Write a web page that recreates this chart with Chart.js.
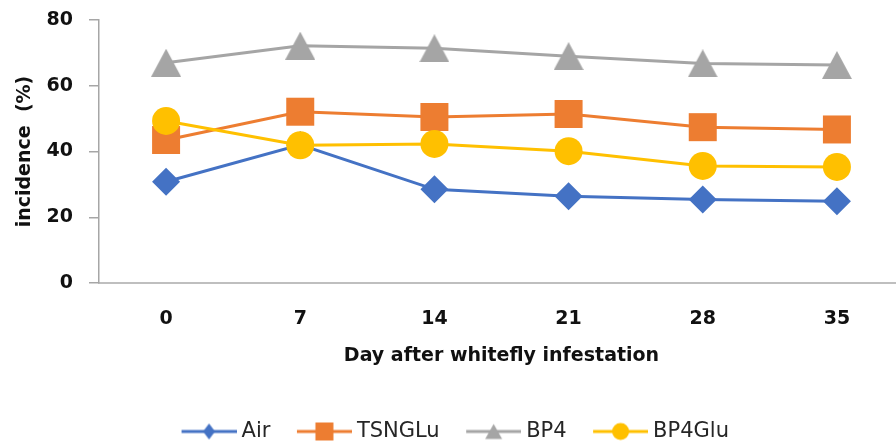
<!DOCTYPE html>
<html><head><meta charset="utf-8">
<script src="https://cdn.jsdelivr.net/npm/chart.js@4.4.1/dist/chart.umd.min.js"></script>
<style>
html,body{margin:0;padding:0;overflow:hidden;background:#fff;width:896px;height:447px;}
#wrap{position:absolute;left:0;top:0;width:906px;height:452px;}
</style></head><body>
<div id="wrap"><canvas id="c" width="906" height="452"></canvas></div>
<script>
// ---- data ----
const days = ['0', '7', '14', '21', '28', '35'];
const seriesNames = ['Air', 'TSNGLu', 'BP4', 'BP4Glu'];
const airValues = [30.8, 42.0, 28.5, 26.4, 25.4, 24.9];
const tsngluValues = [43.5, 52.1, 50.5, 51.4, 47.4, 46.7];
const bp4Values = [67.0, 72.2, 71.4, 69.0, 66.8, 66.3];
const bp4gluValues = [49.3, 41.9, 42.3, 40.1, 35.6, 35.3];
const yTickValues = [0, 20, 40, 60, 80];
const xTitle = 'Day after whitefly infestation';
const yTitle = 'incidence  (%)';

// ---- styles ----
const colors = ['#4472C4', '#ED7D31', '#A5A5A5', '#FFC000'];
const markerTypes = ['diamond', 'square', 'triangle', 'circle'];
const FONT = 'DejaVu Sans';
const TEXT_COLOR = '#111111';
const LEGEND_TEXT = '#262626';

function drawLegendMarker(ctx, type, cx, cy, color) {
  ctx.fillStyle = color;
  ctx.beginPath();
  if (type === 'diamond') {
    ctx.moveTo(cx, cy - 8); ctx.lineTo(cx + 6, cy); ctx.lineTo(cx, cy + 8); ctx.lineTo(cx - 6, cy);
  } else if (type === 'square') {
    ctx.rect(cx - 9, cy - 9, 18, 18);
  } else if (type === 'triangle') {
    ctx.moveTo(cx, cy - 7.5); ctx.lineTo(cx + 8.5, cy + 7.5); ctx.lineTo(cx - 8.5, cy + 7.5);
  } else {
    ctx.arc(cx, cy, 8.5, 0, Math.PI * 2);
  }
  ctx.closePath();
  ctx.fill();
}

// triangle point image (bbox-centred like the original)
function triangleImage(color) {
  const c = document.createElement('canvas');
  c.width = 30; c.height = 28;
  const ctx = c.getContext('2d');
  ctx.fillStyle = color;
  ctx.beginPath();
  ctx.moveTo(15, 0); ctx.lineTo(30, 28); ctx.lineTo(0, 28);
  ctx.closePath(); ctx.fill();
  return c;
}

// legend images: line with marker; content offset so it sits next to text
const LEG_BOX = 66;
function legendImage(type, color) {
  const W = 77, H = 24;
  const c = document.createElement('canvas');
  c.width = W; c.height = H;
  const ctx = c.getContext('2d');
  const x0 = 22, x1 = 77;
  ctx.strokeStyle = color; ctx.lineWidth = 3;
  ctx.beginPath(); ctx.moveTo(x0, H / 2); ctx.lineTo(x1, H / 2); ctx.stroke();
  drawLegendMarker(ctx, type, (x0 + x1) / 2, H / 2, color);
  return c;
}
const legendImgs = markerTypes.map((t, i) => legendImage(t, colors[i]));

const seriesValues = [airValues, tsngluValues, bp4Values, bp4gluValues];
const pointStyles = ['rectRot', 'rect', triangleImage(colors[2]), 'circle'];
const pointRadii = [14, 19.8, 14, 14];

const datasets = seriesNames.map((name, i) => ({
  label: name,
  data: seriesValues[i],
  borderColor: colors[i],
  backgroundColor: colors[i],
  borderWidth: 3,
  pointStyle: pointStyles[i],
  pointRadius: pointRadii[i],
  pointHoverRadius: pointRadii[i],
  pointBorderWidth: 0,
  pointBackgroundColor: colors[i],
  pointBorderColor: colors[i],
  tension: 0,
  clip: false,
  order: seriesNames.length - 1 - i
}));

const legendShift = {
  id: 'legendShift',
  afterLayout(chart) {
    if (chart.legend) { chart.legend.left -= 5; chart.legend.right -= 5; }
  }
};

new Chart(document.getElementById('c'), {
  type: 'line',
  data: { labels: days, datasets },
  plugins: [legendShift],
  options: {
    responsive: false,
    animation: false,
    devicePixelRatio: 1,
    layout: { autoPadding: false, padding: { top: 20, right: 2, left: 0, bottom: 0 } },
    plugins: {
      tooltip: { enabled: false },
      legend: {
        position: 'bottom',
        labels: {
          usePointStyle: true,
          pointStyleWidth: LEG_BOX,
          padding: 10,
          color: LEGEND_TEXT,
          font: { family: FONT, size: 21 },
          generateLabels: (chart) => chart.data.datasets.map((ds, i) => ({
            text: ds.label,
            pointStyle: legendImgs[i],
            fillStyle: colors[i],
            strokeStyle: 'transparent',
            lineWidth: 0,
            hidden: false,
            datasetIndex: i,
            fontColor: LEGEND_TEXT
          }))
        }
      }
    },
    scales: {
      x: {
        type: 'category',
        offset: true,
        grid: { display: false, drawTicks: false },
        border: { display: true, color: '#BFBFBF', width: 2 },
        ticks: { color: TEXT_COLOR, padding: 25, font: { family: FONT, size: 19, weight: 'bold' } },
        title: { display: true, text: xTitle, color: TEXT_COLOR, padding: { top: 0, bottom: 44 },
                 font: { family: FONT, size: 19, weight: 'bold' } },
        afterFit: (s) => { s.height = 128; s.paddingLeft = 0; s.paddingRight = 0; }
      },
      y: {
        min: 0, max: 80,
        afterBuildTicks: (s) => { s.ticks = yTickValues.map(v => ({ value: v })); },
        grid: { display: true, drawOnChartArea: false, drawTicks: true, tickLength: 10, color: '#A6A6A6', lineWidth: 1.5 },
        border: { display: true, color: '#A6A6A6', width: 1.5 },
        ticks: { color: TEXT_COLOR, padding: 16, font: { family: FONT, size: 19, weight: 'bold' } },
        title: { display: true, text: yTitle, color: TEXT_COLOR, padding: { top: 14, bottom: 0 },
                 font: { family: FONT, size: 19, weight: 'bold' } },
        afterFit: (s) => { s.width = 99; s.paddingTop = 0; s.paddingBottom = 0; }
      }
    }
  }
});
</script>
</body></html>
